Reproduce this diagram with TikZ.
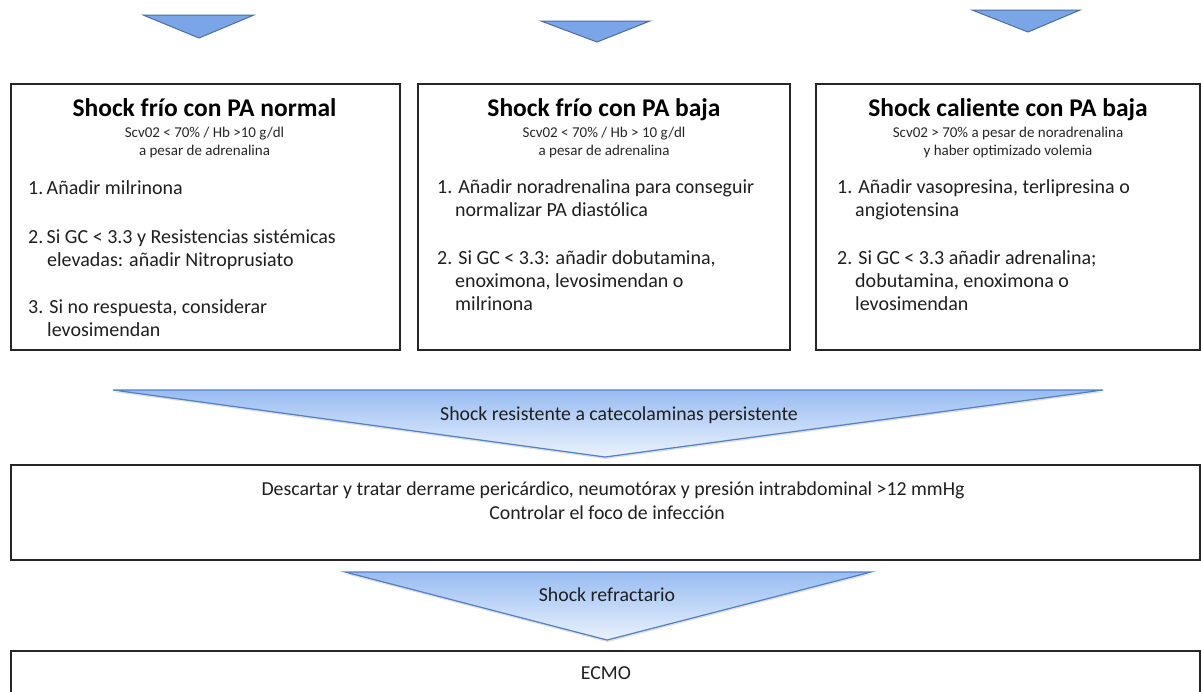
\documentclass[tikz,border=0pt]{standalone}
\usepackage{fontspec}
\setmainfont{Carlito}
\usetikzlibrary{shadows}
\definecolor{triblue}{HTML}{7AA5E6}
\definecolor{triedge}{HTML}{4A6FA8}
\definecolor{shtop}{HTML}{98BCF1}
\definecolor{shbot}{HTML}{EAF2FD}
\definecolor{bigedge}{HTML}{5282C6}
\tikzset{
  panel/.style={draw=black!85, line width=1.7pt, fill=white, inner sep=0pt, anchor=north west,
    drop shadow={shadow xshift=1.2pt, shadow yshift=-1.6pt, opacity=0.3}},
  toptri/.style={fill=triblue, draw=triedge, line width=1pt, line join=miter},
  bigtri/.style={top color=shtop, bottom color=shbot, draw=bigedge, line width=1.2pt, line join=miter,
    drop shadow={shadow xshift=0.5pt, shadow yshift=-2pt, opacity=0.25}},
  ttl/.style={font=\fontsize{25.5}{28}\selectfont\bfseries, anchor=base, inner sep=0pt},
  sub/.style={font=\fontsize{15}{17}\selectfont, anchor=base, inner sep=0pt, text=black!85},
  itm/.style={font=\fontsize{20}{23}\selectfont, anchor=base west, inner sep=0pt, text=black!88},
  mid/.style={font=\fontsize{19.8}{22}\selectfont, anchor=base, inner sep=0pt, text=black!88}
}
\begin{document}
\begin{tikzpicture}[x=1pt,y=-1pt]
\clip (0,0) rectangle (1201,691);
\fill[white] (0,0) rectangle (1201,691);

% top triangles
\filldraw[toptri] (143,15) -- (254,15) -- (199,38) -- cycle;
\filldraw[toptri] (541,21) -- (650,21) -- (597,42) -- cycle;
\filldraw[toptri] (972,10) -- (1080,10) -- (1028,32) -- cycle;

% three boxes
\node[panel, minimum width=389pt, minimum height=266pt] (b1) at (10,83) {};
\node[panel, minimum width=372pt, minimum height=266pt] (b2) at (417,83) {};
\node[panel, minimum width=384pt, minimum height=266pt] (b3) at (815,83) {};

% box 1 text
\node[ttl] (b1t) at (204.5,116) {Shock frío con PA normal};
\node[sub] (b1s1) at (204.5,137) {Scv02 < 70\% / Hb >10 g/dl};
\node[sub] (b1s2) at (204.5,155) {a pesar de adrenalina};
\node[itm] (b1i1) at (28,194) {1.\,Añadir milrinona};
\node[itm] (b1i2) at (28,243) {2.\,Si GC < 3.3 y Resistencias sistémicas};
\node[itm] (b1i2b) at (47,266) {elevadas: añadir Nitroprusiato};
\node[itm] (b1i3) at (28,313) {3. Si no respuesta, considerar};
\node[itm] (b1i3b) at (47,336) {levosimendan};

% box 2 text
\node[ttl] (b2t) at (604,116) {Shock frío con PA baja};
\node[sub] (b2s1) at (604,137) {Scv02 < 70\% / Hb > 10 g/dl};
\node[sub] (b2s2) at (604,155) {a pesar de adrenalina};
\node[itm] (b2i1) at (437,193) {1. Añadir noradrenalina para conseguir};
\node[itm] (b2i1b) at (455,216) {normalizar PA diastólica};
\node[itm] (b2i2) at (437,264) {2. Si GC < 3.3: añadir dobutamina,};
\node[itm] (b2i2b) at (455,287) {enoximona, levosimendan o};
\node[itm] (b2i2c) at (455,310) {milrinona};

% box 3 text
\node[ttl] (b3t) at (1008,116) {Shock caliente con PA baja};
\node[sub] (b3s1) at (1008,137) {Scv02 > 70\% a pesar de noradrenalina};
\node[sub] (b3s2) at (1008,155) {y haber optimizado volemia};
\node[itm] (b3i1) at (837,193) {1. Añadir vasopresina, terlipresina o};
\node[itm] (b3i1b) at (855,216) {angiotensina};
\node[itm] (b3i2) at (837,264) {2. Si GC < 3.3 añadir adrenalina;};
\node[itm] (b3i2b) at (855,287) {dobutamina, enoximona o};
\node[itm] (b3i2c) at (855,310) {levosimendan};

% big arrow triangle
\filldraw[bigtri] (113,390) -- (1103,390) -- (605,457) -- cycle;
\node[mid] (t1) at (619,420) {Shock resistente a catecolaminas persistente};

% middle box
\node[panel, minimum width=1189pt, minimum height=95pt] (b4) at (10,464) {};
\node[mid] (b4a) at (613,495) {Descartar y tratar derrame pericárdico, neumotórax y presión intrabdominal >12 mmHg};
\node[mid] (b4b) at (607,519) {Controlar el foco de infección};

% small arrow triangle
\filldraw[bigtri] (345,572) -- (871,572) -- (607,640) -- cycle;
\node[mid] (t2) at (607,601) {Shock refractario};

% bottom box
\node[panel, minimum width=1189pt, minimum height=80pt] (b5) at (10,650) {};
\node[mid] (b5a) at (606,679) {ECMO};
\end{tikzpicture}
\end{document}
